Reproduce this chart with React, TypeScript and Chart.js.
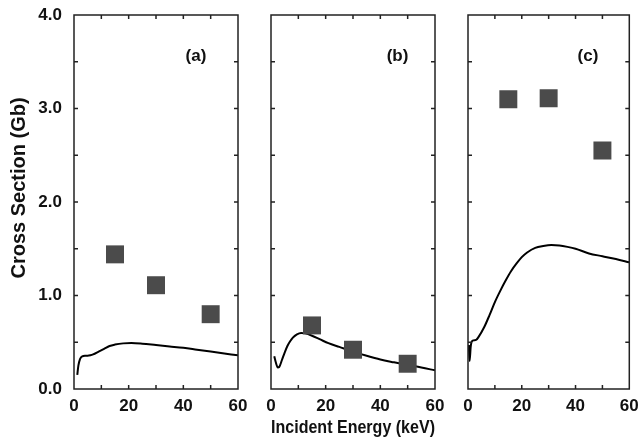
import React, { useEffect, useRef } from 'react';
import { Chart, registerables } from 'chart.js';
Chart.register(...registerables);

const W = 642;
const H = 443;

// theory curves (keV, Gb)
const energyA = [1.2, 1.6, 2.2, 3, 4, 5, 6, 7, 9, 11, 13, 15, 18, 21, 25, 30, 35, 40, 45, 50, 55, 60];
const sigmaA = [0.15, 0.25, 0.32, 0.35, 0.355, 0.355, 0.36, 0.37, 0.40, 0.43, 0.46, 0.475, 0.488, 0.492, 0.485, 0.47, 0.455, 0.44, 0.42, 0.40, 0.38, 0.36];

const energyB = [1.2, 1.8, 2.5, 3, 4, 5, 6, 7, 8, 9.5, 11, 12.5, 15, 18, 21, 25, 30, 35, 40, 45, 50, 55, 60];
const sigmaB = [0.35, 0.28, 0.23, 0.235, 0.31, 0.39, 0.46, 0.51, 0.55, 0.585, 0.60, 0.595, 0.57, 0.53, 0.49, 0.45, 0.40, 0.355, 0.315, 0.285, 0.257, 0.23, 0.20];

const energyC = [0.3, 0.6, 1.0, 1.3, 2, 3, 4, 6, 8, 10, 12, 14, 16, 18, 20, 22, 25, 28, 31, 34, 37, 40, 45, 50, 55, 60];
const sigmaC = [0.47, 0.30, 0.45, 0.50, 0.52, 0.525, 0.56, 0.66, 0.79, 0.93, 1.05, 1.16, 1.26, 1.34, 1.41, 1.46, 1.51, 1.53, 1.54, 1.535, 1.52, 1.50, 1.45, 1.42, 1.39, 1.355];

// experimental points
const expEnergy = [15, 30, 50];
const expA = [1.44, 1.11, 0.80];
const expB = [0.68, 0.42, 0.27];
const expC = [3.10, 3.11, 2.55];

// axes
const xMin = 0, xMax = 60, xStep = 20, xMinorStep = 10;
const yMin = 0, yMax = 4, yStep = 1, yMinorStep = 0.5;

const panelLabels = ['(a)', '(b)', '(c)'];
const labelX = [44.6, 46.3, 44.6];
const labelY = [3.56, 3.56, 3.56];

const yTitle = 'Cross Section (Gb)';
const xTitle = 'Incident Energy (keV)';

const FONT = "'Liberation Sans', Arial, Helvetica, sans-serif";

type Panel = {
  energy: number[];
  sigma: number[];
  exp: number[];
  label: string;
  lx: number;
  ly: number;
  left: number;
  right: number;
  first: boolean;
  xTitle: boolean;
};

const panels: Panel[] = [
  { energy: energyA, sigma: sigmaA, exp: expA, label: panelLabels[0], lx: labelX[0], ly: labelY[0], left: 74, right: 238, first: true, xTitle: false },
  { energy: energyB, sigma: sigmaB, exp: expB, label: panelLabels[1], lx: labelX[1], ly: labelY[1], left: 271, right: 435, first: false, xTitle: true },
  { energy: energyC, sigma: sigmaC, exp: expC, label: panelLabels[2], lx: labelX[2], ly: labelY[2], left: 468, right: 632, first: false, xTitle: false },
];

const TOP = 15;
const BOTTOM = 389;

const framePlugin = {
  id: 'frame',
  afterDraw(chart: any) {
    const { ctx, chartArea } = chart;
    const xs = chart.scales.x;
    const ys = chart.scales.y;
    const { left, right, top, bottom } = chartArea;
    ctx.save();
    ctx.strokeStyle = '#222';
    ctx.lineWidth = 1.5;
    const tl = 4;
    ctx.beginPath();
    for (let v = xMin + xMinorStep; v < xMax; v += xMinorStep) {
      const px = xs.getPixelForValue(v);
      ctx.moveTo(px, bottom);
      ctx.lineTo(px, bottom - tl);
      ctx.moveTo(px, top);
      ctx.lineTo(px, top + tl);
    }
    for (let v = yMin + yMinorStep; v < yMax; v += yMinorStep) {
      const py = ys.getPixelForValue(v);
      ctx.moveTo(left, py);
      ctx.lineTo(left + tl, py);
      ctx.moveTo(right, py);
      ctx.lineTo(right - tl, py);
    }
    ctx.stroke();
    ctx.strokeRect(left, top, right - left, bottom - top);
    const opts = chart.options.plugins.frame;
    ctx.fillStyle = '#111';
    ctx.font = `bold 17px ${FONT}`;
    ctx.textAlign = 'center';
    ctx.textBaseline = 'middle';
    ctx.fillText(opts.label, xs.getPixelForValue(opts.lx), ys.getPixelForValue(opts.ly));
    if (opts.first) {
      // y-axis title, centred a little above the middle of the axis as in the original
      ctx.save();
      ctx.translate(19, ys.getPixelForValue(2.15));
      ctx.rotate(-Math.PI / 2);
      ctx.font = `bold 20px ${FONT}`;
      ctx.fillText(yTitle, 0, 0);
      ctx.restore();
    }
    ctx.restore();
  },
};

function PanelChart({ p }: { p: Panel }) {
  const ref = useRef<HTMLCanvasElement>(null);
  useEffect(() => {
    if (!ref.current) return;
    const chart = new Chart(ref.current, {
      type: 'scatter',
      data: {
        datasets: [
          {
            data: expEnergy.map((x, i) => ({ x, y: p.exp[i] })),
            pointStyle: 'rect',
            pointRadius: 12.7,
            pointHoverRadius: 12.7,
            backgroundColor: '#4b4b4b',
            borderWidth: 0,
            showLine: false,
            order: 0,
          },
          {
            data: p.energy.map((x, i) => ({ x, y: p.sigma[i] })),
            showLine: true,
            borderColor: '#000',
            borderWidth: 2,
            pointRadius: 0,
            cubicInterpolationMode: 'monotone',
            fill: false,
            order: 1,
          },
        ],
      },
      options: {
        animation: false,
        responsive: false,
        events: [],
        layout: { padding: { left: 0, right: W - p.right, top: TOP, bottom: 0 } },
        plugins: {
          legend: { display: false },
          tooltip: { enabled: false },
          frame: { label: p.label, lx: p.lx, ly: p.ly, first: p.first },
        } as any,
        scales: {
          x: {
            type: 'linear',
            min: xMin,
            max: xMax,
            grid: { display: false, drawTicks: false },
            border: { display: false },
            ticks: {
              stepSize: xStep,
              padding: 7,
              color: '#111',
              font: { family: FONT, size: 17, weight: 'bold' },
              maxRotation: 0,
            },
            title: {
              display: p.xTitle,
              text: xTitle,
              color: '#111',
              font: { family: FONT, size: 18, weight: 'bold' },
              padding: { top: 0, bottom: 4 },
            },
            afterFit: (s: any) => {
              s.height = H - BOTTOM;
              s.paddingLeft = 0;
              s.paddingRight = 0;
            },
          },
          y: {
            type: 'linear',
            min: yMin,
            max: yMax,
            grid: { display: false, drawTicks: false },
            border: { display: false },
            ticks: {
              display: p.first,
              stepSize: yStep,
              padding: 12,
              color: '#111',
              font: { family: FONT, size: 17, weight: 'bold' },
              callback: (v: any) => Number(v).toFixed(1),
            },
            afterFit: (s: any) => {
              s.width = p.left;
              s.paddingTop = 0;
              s.paddingBottom = 0;
            },
          },
        },
      },
      plugins: [framePlugin],
    } as any);
    return () => chart.destroy();
  }, [p]);
  return (
    <canvas
      ref={ref}
      width={W}
      height={H}
      style={{ position: 'absolute', left: 0, top: 0, width: W, height: H }}
    />
  );
}

export default function App() {
  return (
    <div style={{ position: 'absolute', left: 0, top: 0, width: W, height: H, background: '#fff' }}>
      {panels.map((p, i) => (
        <PanelChart key={i} p={p} />
      ))}
    </div>
  );
}
